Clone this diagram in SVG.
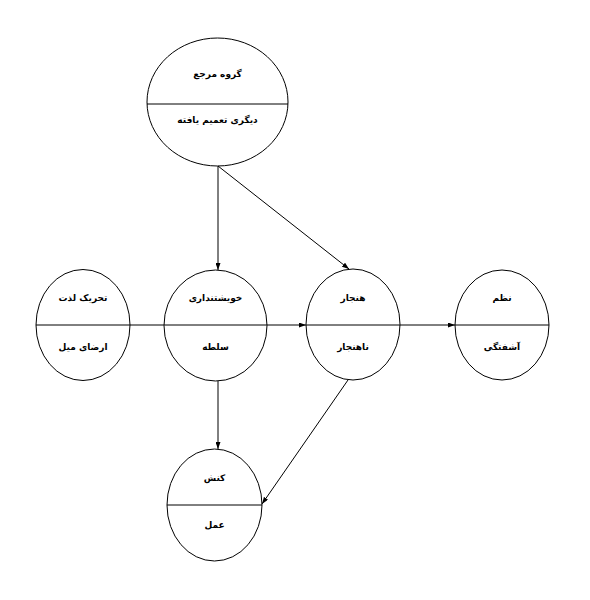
<svg xmlns="http://www.w3.org/2000/svg" width="590" height="600" viewBox="0 0 590 600">
<style>
.n ellipse{fill:none;stroke:#000;stroke-width:1}
.n line{stroke:#000;stroke-width:1}
text{font-family:"DejaVu Sans","Noto Sans",sans-serif;font-size:9px;font-weight:bold;text-anchor:middle;fill:#000}
.c line{stroke:#000;stroke-width:1;marker-end:url(#ah)}
</style>
<defs>
<marker id="ah" viewBox="0 0 7 5" refX="7" refY="2.5" markerWidth="7" markerHeight="5" markerUnits="userSpaceOnUse" orient="auto">
<path d="M0,0 L7,2.5 L0,5 Z" fill="#000"/>
</marker>
</defs>
<rect width="590" height="600" fill="#fff"/>
<g id="n-ref" class="n">
<ellipse cx="217.5" cy="102" rx="70.5" ry="64"/>
<line x1="147" y1="104" x2="288" y2="104"/>
<text x="217.5" y="77" direction="rtl">گروه مرجع</text>
<text x="217.5" y="123" direction="rtl">دیگری تعمیم یافته</text>
</g>
<g id="n-pleasure" class="n">
<ellipse cx="83" cy="325" rx="47" ry="55.5"/>
<text x="83" y="301" direction="rtl">تحریک لذت</text>
<text x="83" y="350" direction="rtl">ارضای میل</text>
</g>
<g id="n-self" class="n">
<ellipse cx="215.5" cy="325.5" rx="51.5" ry="55.5"/>
<text x="215.5" y="301" direction="rtl">خویشتنداری</text>
<text x="215.5" y="350" direction="rtl">سلطه</text>
</g>
<g id="n-norm" class="n">
<ellipse cx="353" cy="324.5" rx="47" ry="55.5"/>
<line x1="306" y1="325" x2="400" y2="325"/>
<text x="353" y="301" direction="rtl">هنجار</text>
<text x="353" y="350" direction="rtl">ناهنجار</text>
</g>
<g id="n-order" class="n">
<ellipse cx="502" cy="325" rx="47" ry="55"/>
<line x1="455" y1="325" x2="549" y2="325"/>
<text x="502" y="301" direction="rtl">نظم</text>
<text x="502" y="350" direction="rtl">آشفتگی</text>
</g>
<g id="n-action" class="n">
<ellipse cx="214.5" cy="505" rx="47.5" ry="56"/>
<line x1="167" y1="505" x2="262" y2="505"/>
<text x="214.5" y="481" direction="rtl">کنش</text>
<text x="214.5" y="528" direction="rtl">عمل</text>
</g>
<g id="connectors" class="c">
<line x1="36" y1="325" x2="306" y2="325"/>
<line x1="400" y1="325" x2="455" y2="325"/>
<line x1="218" y1="166" x2="218" y2="270"/>
<line x1="218" y1="166" x2="349" y2="269"/>
<line x1="218" y1="381" x2="218" y2="449"/>
<line x1="348" y1="380" x2="262" y2="504"/>
</g>
</svg>
